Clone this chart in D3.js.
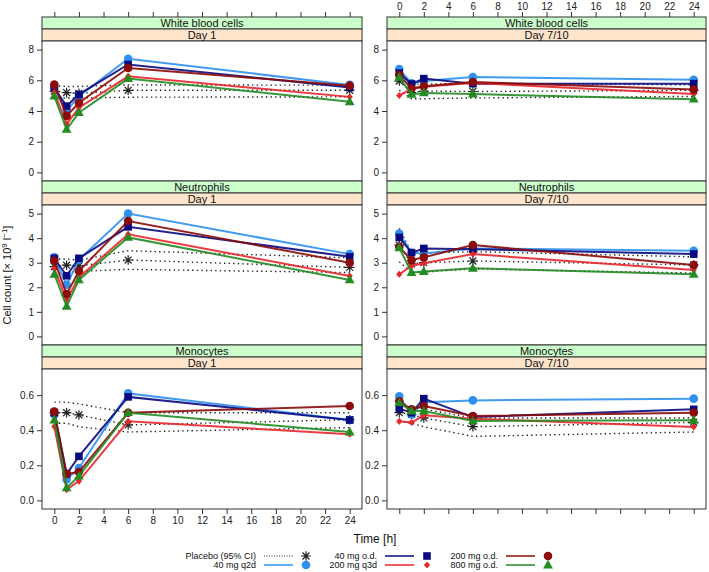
<!DOCTYPE html>
<html>
<head>
<meta charset="utf-8">
<script src="https://cdn.jsdelivr.net/npm/d3@7/dist/d3.min.js"></script>
<style>
  body { margin: 0; background: #fff; }
  svg { font-family: "Liberation Sans", Arial, sans-serif; }
  .tick line { stroke: #333; }
  .tick text { fill: #222; font-size: 10px; }
</style>
</head>
<body>
<div id="chart"></div>
<script>
// time points and labels
const times = [0, 1, 2, 6, 24]
const xTicks = [0, 2, 4, 6, 8, 10, 12, 14, 16, 18, 20, 22, 24]
const analytes = ["White blood cells", "Neutrophils", "Monocytes"]
const days = ["Day 1", "Day 7/10"]
const groups = ["40 mg q2d", "40 mg o.d.", "200 mg q3d", "200 mg o.d.", "800 mg o.d."]

// series values, rows in the order of `groups`
const wbcDay1 = [
  [5.55, 4.0, 4.97, 7.4, 5.7],
  [5.5, 4.32, 5.08, 7.03, 5.53],
  [5.2, 3.14, 4.21, 6.26, 4.92],
  [5.72, 3.68, 4.54, 6.8, 5.65],
  [4.97, 2.8, 3.89, 6.11, 4.6]
]
const wbcDay7 = [
  [6.73, 5.8, 5.95, 6.21, 6.04],
  [6.47, 5.76, 6.11, 5.78, 5.78],
  [5.01, 5.44, 5.58, 5.83, 5.1],
  [6.35, 5.46, 5.61, 5.89, 5.4],
  [6.19, 5.08, 5.18, 5.1, 4.77]
]
const neuDay1 = [
  [3.22, 2.1, 3.12, 5.0, 3.35],
  [3.18, 2.47, 3.18, 4.46, 3.24],
  [2.75, 1.49, 2.4, 4.16, 2.46],
  [3.08, 1.72, 2.66, 4.7, 3.0],
  [2.53, 1.22, 2.3, 4.03, 2.3]
]
const neuDay7 = [
  [4.19, 3.4, 3.38, 3.58, 3.49],
  [4.03, 3.41, 3.58, 3.55, 3.35],
  [2.53, 2.87, 2.98, 3.35, 2.7],
  [3.65, 3.1, 3.22, 3.72, 2.91],
  [3.61, 2.6, 2.64, 2.77, 2.53]
]
const monoDay1 = [
  [0.49, 0.119, 0.185, 0.61, 0.458],
  [0.5, 0.15, 0.251, 0.59, 0.458],
  [0.421, 0.062, 0.11, 0.451, 0.377],
  [0.506, 0.151, 0.162, 0.5, 0.538],
  [0.458, 0.072, 0.138, 0.5, 0.39]
]
const monoDay7 = [
  [0.594, 0.49, 0.56, 0.57, 0.58],
  [0.523, 0.5, 0.58, 0.475, 0.519],
  [0.451, 0.444, 0.485, 0.466, 0.419],
  [0.565, 0.519, 0.538, 0.481, 0.5],
  [0.557, 0.509, 0.509, 0.453, 0.457]
]

// placebo: mean, lower 95% CI, upper 95% CI
const wbcDay1Placebo = [
  [5.3, 5.2, 5.15, 5.35, 5.35],
  [4.85, 4.85, 4.85, 4.9, 4.92],
  [5.65, 5.6, 5.6, 5.7, 5.68]
]
const wbcDay7Placebo = [
  [5.95, 5.2, 5.3, 5.27, 5.35],
  [5.35, 4.8, 4.8, 4.85, 4.95],
  [6.55, 5.75, 5.75, 5.8, 5.7]
]
const neuDay1Placebo = [
  [2.84, 2.9, 2.87, 3.11, 2.81],
  [2.55, 2.6, 2.65, 2.73, 2.6],
  [3.15, 3.15, 3.1, 3.49, 3.2]
]
const neuDay7Placebo = [
  [3.72, 2.95, 3.0, 3.07, 2.91],
  [3.04, 2.6, 2.62, 2.75, 2.58],
  [4.4, 3.4, 3.4, 3.45, 3.24]
]
const monoDay1Placebo = [
  [0.5, 0.5, 0.487, 0.43, 0.46],
  [0.44, 0.44, 0.42, 0.39, 0.415],
  [0.56, 0.56, 0.55, 0.5, 0.5]
]
const monoDay7Placebo = [
  [0.5, 0.49, 0.47, 0.42, 0.445],
  [0.45, 0.44, 0.42, 0.365, 0.39],
  [0.55, 0.53, 0.52, 0.47, 0.47]
]

const yLimits = [[0, 8], [0, 5], [0, 0.7]]
const yTicks = [[0, 2, 4, 6, 8], [0, 1, 2, 3, 4, 5], [0, 0.2, 0.4, 0.6]]

const colors = ["#2f8ff0", "#0a0a80", "#e8262b", "#8b0a0a", "#228b22"]
const shapes = ["circle", "square", "diamond", "circle", "triangle"]

const panelData = [
  [[wbcDay1, wbcDay1Placebo], [wbcDay7, wbcDay7Placebo]],
  [[neuDay1, neuDay1Placebo], [neuDay7, neuDay7Placebo]],
  [[monoDay1, monoDay1Placebo], [monoDay7, monoDay7Placebo]]
]

const W = 709, H = 572
const svg = d3.select("#chart").append("svg").attr("width", W).attr("height", H)

const cols = [[42, 362], [387, 706]]
const blockTop = 17, stripH = 12, plotH = 140, blockH = 2 * stripH + plotH

const x = cols.map(c => d3.scaleLinear().domain([-1, 25]).range(c))

function drawMarker(g, shape, cx, cy, color) {
  if (shape === "circle") {
    g.append("circle").attr("cx", cx).attr("cy", cy).attr("r", 4.3).attr("fill", color)
  } else if (shape === "square") {
    g.append("rect").attr("x", cx - 3.8).attr("y", cy - 3.8).attr("width", 7.6).attr("height", 7.6).attr("fill", color)
  } else if (shape === "diamond") {
    g.append("path").attr("d", `M${cx},${cy - 3.6}L${cx + 3.1},${cy}L${cx},${cy + 3.6}L${cx - 3.1},${cy}Z`).attr("fill", color)
  } else if (shape === "triangle") {
    g.append("path").attr("d", `M${cx},${cy - 5.3}L${cx + 4.9},${cy + 3.4}L${cx - 4.9},${cy + 3.4}Z`).attr("fill", color)
  } else if (shape === "star") {
    const r = 4.8, d = r * 0.72
    g.append("path")
      .attr("d", `M${cx - r},${cy}L${cx + r},${cy}M${cx},${cy - r}L${cx},${cy + r}M${cx - d},${cy - d}L${cx + d},${cy + d}M${cx - d},${cy + d}L${cx + d},${cy - d}`)
      .attr("stroke", color).attr("stroke-width", 1.2).attr("fill", "none")
  }
}

analytes.forEach((name, r) => {
  const top = blockTop + r * blockH
  const plotTop = top + 2 * stripH
  const [lo, hi] = yLimits[r]
  const pad = (hi - lo) * 0.07
  const y = d3.scaleLinear().domain([lo - pad, hi + pad]).range([plotTop + plotH, plotTop])

  days.forEach((day, c) => {
    const [x0, x1] = cols[c]
    const xs = x[c]
    const g = svg.append("g")

    // strips
    g.append("rect").attr("x", x0).attr("y", top).attr("width", x1 - x0).attr("height", stripH)
      .attr("fill", "#ccffcc").attr("stroke", "#333")
    g.append("text").attr("x", (x0 + x1) / 2).attr("y", top + stripH / 2 + 4)
      .attr("text-anchor", "middle").attr("font-size", 11).attr("fill", "#111").text(name)
    g.append("rect").attr("x", x0).attr("y", top + stripH).attr("width", x1 - x0).attr("height", stripH)
      .attr("fill", "#ffe5cc").attr("stroke", "#333")
    g.append("text").attr("x", (x0 + x1) / 2).attr("y", top + stripH * 1.5 + 4)
      .attr("text-anchor", "middle").attr("font-size", 11).attr("fill", "#111").text(day)

    // y axis on the left of every panel
    const yAxis = g.append("g").attr("transform", `translate(${x0},0)`)
      .call(d3.axisLeft(y).tickValues(yTicks[r]).tickSize(5).tickPadding(3)
        .tickFormat(r === 2 ? d3.format(".1f") : d3.format("d")))
    yAxis.select(".domain").remove()

    // top axis ticks on the first row, bottom on the last row
    if (r === 0) {
      const a = g.append("g").attr("transform", `translate(0,${top})`)
        .call(d3.axisTop(xs).tickValues(xTicks).tickSize(5).tickPadding(2)
          .tickFormat(c === 1 ? d3.format("d") : ""))
      a.select(".domain").remove()
    }
    if (r === 2) {
      const a = g.append("g").attr("transform", `translate(0,${plotTop + plotH})`)
        .call(d3.axisBottom(xs).tickValues(xTicks).tickSize(5).tickPadding(3)
          .tickFormat(c === 0 ? d3.format("d") : ""))
      a.select(".domain").remove()
    }

    // plot frame
    g.append("rect").attr("x", x0).attr("y", plotTop).attr("width", x1 - x0).attr("height", plotH)
      .attr("fill", "#fff").attr("stroke", "#333")

    const [series, placebo] = panelData[r][c]
    const line = d3.line().x((d, i) => xs(times[i])).y(d => y(d))

    // placebo with 95% CI, dotted
    placebo.forEach(p => {
      g.append("path").attr("d", line(p)).attr("fill", "none")
        .attr("stroke", "#222").attr("stroke-width", 1.4).attr("stroke-dasharray", "1.4,3.2")
    })
    placebo[0].forEach((v, i) => drawMarker(g, "star", xs(times[i]), y(v), "#222"))

    series.forEach((s, k) => {
      g.append("path").attr("d", line(s)).attr("fill", "none")
        .attr("stroke", colors[k]).attr("stroke-width", 2).attr("stroke-opacity", 0.9)
      s.forEach((v, i) => drawMarker(g, shapes[k], xs(times[i]), y(v), colors[k]))
    })
  })
})

// axis titles
svg.append("text").attr("x", 375).attr("y", 543).attr("text-anchor", "middle")
  .attr("font-size", 12).attr("fill", "#111").text("Time [h]")

const yt = svg.append("text").attr("transform", "translate(11,275) rotate(-90)")
  .attr("text-anchor", "middle").attr("font-size", 11).attr("fill", "#111")
yt.append("tspan").text("Cell count [× 10")
yt.append("tspan").attr("dy", -4).attr("font-size", 8).text("9")
yt.append("tspan").attr("dy", 4).text(" l")
yt.append("tspan").attr("dy", -4).attr("font-size", 8).text("−1")
yt.append("tspan").attr("dy", 4).text("]")

// legend, three columns of two rows
const legendNames = ["Placebo (95% CI)", "40 mg q2d", "40 mg o.d.", "200 mg q3d", "200 mg o.d.", "800 mg o.d."]
const legendColors = ["#222"].concat(colors)
const legendShapes = ["star"].concat(shapes)
const legendCols = [256, 377, 498]
const legendRows = [556, 565]
legendNames.forEach((n, i) => {
  const cx = legendCols[Math.floor(i / 2)], cy = legendRows[i % 2]
  const lg = svg.append("g")
  lg.append("text").attr("x", cx).attr("y", cy + 3).attr("text-anchor", "end")
    .attr("font-size", 9).attr("fill", "#111").text(n)
  lg.append("line").attr("x1", cx + 8).attr("x2", cx + 37).attr("y1", cy).attr("y2", cy)
    .attr("stroke", legendColors[i]).attr("stroke-width", i === 0 ? 1 : 1.5)
    .attr("stroke-dasharray", i === 0 ? "1,1.5" : null)
  drawMarker(lg, legendShapes[i], cx + 50, cy, legendColors[i])
})
</script>
</body>
</html>
